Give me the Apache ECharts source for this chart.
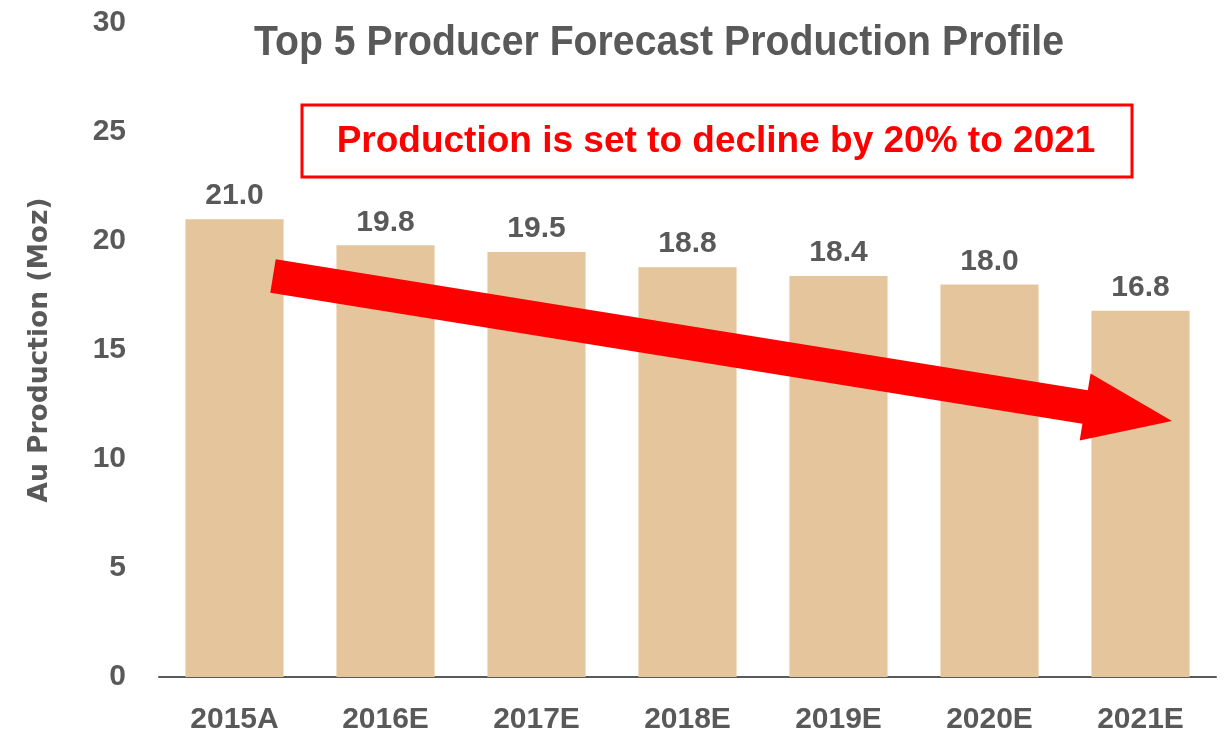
<!DOCTYPE html>
<html>
<head>
<meta charset="utf-8">
<script src="https://cdn.jsdelivr.net/npm/echarts@6/dist/echarts.min.js"></script>
<style>
  html, body { margin: 0; padding: 0; background: #fff; }
  #chart_view { width: 1228px; height: 738px; }
</style>
</head>
<body>
<div id="chart_view"></div>
<script>
// chart data
var years = ['2015A', '2016E', '2017E', '2018E', '2019E', '2020E', '2021E'];
var production = [21.0, 19.8, 19.5, 18.8, 18.4, 18.0, 16.8];
var yTicks = [0, 5, 10, 15, 20, 25, 30];

var grey = '#595959';
var sans = '"Liberation Sans", Arial, sans-serif';

// arrow annotation: start, tip, shaft half width, head half width, head length
function arrowPoints(x0, y0, x1, y1, sw, hw, hl) {
    var dx = x1 - x0, dy = y1 - y0;
    var len = Math.sqrt(dx * dx + dy * dy);
    var ux = dx / len, uy = dy / len;
    var nx = -uy, ny = ux;
    var bx = x1 - ux * hl, by = y1 - uy * hl;
    return [
        [x0 + nx * sw, y0 + ny * sw],
        [bx + nx * sw, by + ny * sw],
        [bx + nx * hw, by + ny * hw],
        [x1, y1],
        [bx - nx * hw, by - ny * hw],
        [bx - nx * sw, by - ny * sw],
        [x0 - nx * sw, y0 - ny * sw]
    ];
}

var myChart = echarts.init(document.getElementById('chart_view'));

var option = {
    animation: false,
    grid: { left: 159, right: 12, top: 23, bottom: 61 },
    xAxis: {
        type: 'category',
        data: years,
        axisTick: { show: false },
        axisLine: { lineStyle: { color: '#595959', width: 2 } },
        axisLabel: {
            color: grey, fontFamily: sans, fontWeight: 'bold',
            fontSize: 30, margin: 28
        }
    },
    yAxis: {
        type: 'value',
        min: yTicks[0],
        max: yTicks[yTicks.length - 1],
        interval: 5,
        splitLine: { show: false },
        axisLine: { show: false },
        axisLabel: {
            color: grey, fontFamily: sans, fontWeight: 'bold',
            fontSize: 30, margin: 33
        },
        name: 'Au Production (Moz)',
        nameLocation: 'middle',
        nameGap: 105,
        nameRotate: 90,
        nameTextStyle: {
            color: grey, fontFamily: '"DejaVu Sans", sans-serif',
            fontWeight: 'bold', fontSize: 26.5
        }
    },
    series: [{
        type: 'bar',
        data: production,
        barWidth: '65%',
        itemStyle: { color: '#E5C69C' },
        label: {
            show: true,
            position: 'top',
            distance: 8,
            color: grey, fontFamily: sans, fontWeight: 'bold', fontSize: 30,
            formatter: function (p) { return p.value.toFixed(1); }
        }
    }],
    graphic: [
        {
            type: 'text', x: 659, y: 43, scaleX: 0.934,
            style: {
                text: 'Top 5 Producer Forecast Production Profile',
                fill: grey, font: 'bold 42px ' + sans,
                textAlign: 'center', textVerticalAlign: 'middle'
            }
        },
        {
            type: 'rect',
            shape: { x: 302, y: 105, width: 830, height: 72 },
            style: { fill: '#fff', stroke: '#FF0000', lineWidth: 3 }
        },
        {
            type: 'text', x: 716, y: 142,
            style: {
                text: 'Production is set to decline by 20% to 2021',
                fill: '#FF0000', font: 'bold 37px ' + sans,
                textAlign: 'center', textVerticalAlign: 'middle'
            }
        },
        {
            type: 'polygon', z: 100,
            shape: { points: arrowPoints(273, 276, 1172, 421, 17, 34, 88) },
            style: { fill: '#FF0000' }
        }
    ]
};

myChart.setOption(option);
</script>
</body>
</html>
